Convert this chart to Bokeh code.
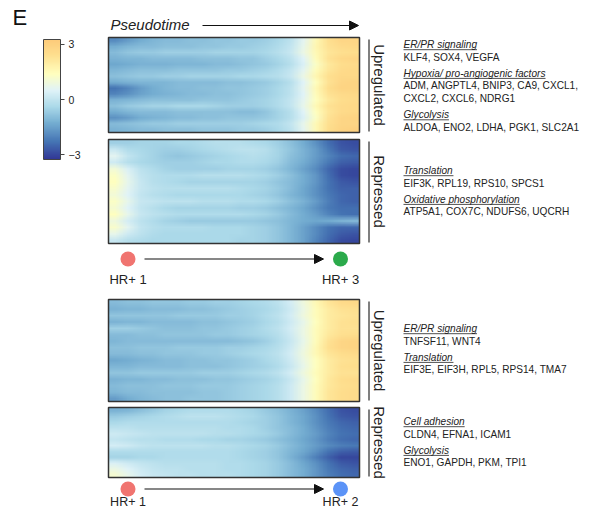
import numpy as np
import zlib, struct, base64
from bokeh.plotting import figure
from bokeh.models import Range1d, LinearColorMapper, ColorBar, FixedTicker, Arrow, NormalHead
from bokeh.core.properties import value
from bokeh.embed import file_html
from bokeh.resources import INLINE

# ---------------- data ----------------
# z-scored expression along pseudotime (rows = gene groups, cols = pseudotime bins)
up_hr3 = [
    [-1.9,-1.6,-1.3,-1.1,-1.0,-1.0,-0.9,-0.9,-0.8,-0.8,-0.7,-0.7,-0.6,-0.4,-0.1,0.6,1.6,2.4,2.8,2.8],
    [-1.3,-1.1,-1.0,-1.0,-0.9,-0.9,-0.9,-0.8,-0.8,-0.7,-0.7,-0.6,-0.5,-0.3,0.0,0.7,1.7,2.3,2.6,2.7],
    [-1.0,-0.8,-0.7,-0.7,-0.6,-0.6,-0.6,-0.6,-0.5,-0.5,-0.5,-0.5,-0.4,-0.2,0.1,0.8,1.6,2.2,2.4,2.5],
    [-1.2,-1.1,-1.1,-1.0,-1.0,-1.0,-1.0,-0.9,-0.9,-0.9,-0.8,-0.8,-0.6,-0.4,-0.1,0.5,1.5,2.3,2.7,2.8],
    [-1.4,-1.3,-1.2,-1.2,-1.2,-1.1,-1.1,-1.1,-1.0,-1.0,-0.9,-0.8,-0.7,-0.5,-0.2,0.4,1.3,2.1,2.5,2.6],
    [-1.1,-1.0,-0.9,-0.9,-0.9,-0.8,-0.8,-0.8,-0.8,-0.7,-0.7,-0.6,-0.5,-0.3,0.0,0.6,1.5,2.2,2.6,2.7],
    [-0.9,-0.8,-0.7,-0.7,-0.6,-0.6,-0.5,-0.5,-0.5,-0.5,-0.4,-0.4,-0.3,-0.2,0.1,0.8,1.7,2.4,2.7,2.7],
    [-1.3,-1.2,-1.1,-1.1,-1.1,-1.0,-1.0,-1.0,-1.0,-0.9,-0.9,-0.8,-0.7,-0.5,-0.2,0.5,1.4,2.3,2.8,2.9],
    [-2.3,-2.0,-1.6,-1.3,-1.1,-1.0,-1.0,-0.9,-0.9,-0.8,-0.8,-0.7,-0.6,-0.4,-0.1,0.6,1.6,2.5,2.9,2.9],
    [-2.0,-1.8,-1.5,-1.3,-1.2,-1.1,-1.0,-1.0,-0.9,-0.9,-0.8,-0.7,-0.6,-0.4,-0.1,0.5,1.5,2.3,2.6,2.7],
    [-1.2,-1.1,-1.0,-0.9,-0.9,-0.9,-0.9,-0.8,-0.8,-0.8,-0.7,-0.6,-0.5,-0.3,0.0,0.6,1.4,2.1,2.5,2.6],
    [-0.9,-0.7,-0.6,-0.5,-0.5,-0.4,-0.4,-0.4,-0.5,-0.6,-0.6,-0.6,-0.5,-0.3,0.0,0.7,1.6,2.3,2.6,2.7],
    [-1.3,-1.1,-1.0,-1.0,-1.0,-0.9,-0.9,-0.9,-0.9,-0.9,-1.0,-1.0,-0.8,-0.5,-0.2,0.5,1.4,2.2,2.6,2.7],
    [-1.8,-1.6,-1.3,-1.2,-1.1,-1.0,-1.0,-0.9,-0.9,-0.8,-0.8,-0.8,-0.7,-0.5,-0.2,0.4,1.3,2.3,2.8,2.9],
    [-1.0,-0.9,-0.8,-0.7,-0.7,-0.6,-0.6,-0.6,-0.6,-0.6,-0.6,-0.5,-0.4,-0.3,0.0,0.7,1.6,2.4,2.8,2.8],
    [-1.2,-1.1,-1.0,-1.0,-0.9,-0.9,-0.9,-0.8,-0.8,-0.8,-0.7,-0.7,-0.6,-0.4,-0.1,0.6,1.6,2.5,2.9,3.0],
]
rep_hr3 = [
    [-0.6,-0.6,-0.5,-0.5,-0.5,-0.4,-0.4,-0.3,-0.2,-0.2,-0.2,-0.3,-0.4,-0.6,-0.9,-1.3,-1.8,-2.4,-2.8,-2.9],
    [0.1,-0.3,-0.4,-0.5,-0.6,-0.6,-0.5,-0.4,-0.3,-0.2,-0.1,-0.1,-0.2,-0.5,-0.8,-1.2,-1.6,-2.2,-2.7,-2.8],
    [0.6,0.0,-0.3,-0.5,-0.7,-0.8,-0.7,-0.6,-0.5,-0.4,-0.3,-0.2,-0.3,-0.5,-0.9,-1.2,-1.6,-2.0,-2.4,-2.5],
    [0.2,-0.2,-0.4,-0.5,-0.6,-0.6,-0.6,-0.5,-0.4,-0.4,-0.3,-0.3,-0.4,-0.6,-1.0,-1.3,-1.7,-2.2,-2.6,-2.7],
    [1.0,0.4,-0.1,-0.3,-0.5,-0.6,-0.6,-0.6,-0.6,-0.5,-0.5,-0.5,-0.6,-0.8,-1.1,-1.5,-1.9,-2.5,-2.9,-3.0],
    [1.3,0.6,0.0,-0.2,-0.3,-0.3,-0.3,-0.2,-0.2,-0.2,-0.2,-0.3,-0.4,-0.6,-0.9,-1.3,-1.7,-2.4,-2.9,-3.0],
    [1.4,0.7,0.1,-0.2,-0.3,-0.4,-0.5,-0.5,-0.5,-0.5,-0.5,-0.5,-0.6,-0.8,-1.0,-1.3,-1.7,-2.3,-2.7,-2.8],
    [1.2,0.6,0.1,-0.1,-0.2,-0.2,-0.2,-0.2,-0.2,-0.2,-0.3,-0.4,-0.5,-0.7,-1.0,-1.4,-1.8,-2.3,-2.6,-2.6],
    [1.0,0.5,0.0,-0.2,-0.3,-0.4,-0.4,-0.4,-0.4,-0.4,-0.4,-0.5,-0.6,-0.8,-1.1,-1.4,-1.8,-2.2,-2.5,-2.6],
    [1.3,0.7,0.1,0.0,-0.1,-0.1,-0.1,-0.2,-0.2,-0.2,-0.3,-0.3,-0.4,-0.6,-0.9,-1.2,-1.6,-2.1,-2.5,-2.6],
    [1.1,0.5,0.0,-0.2,-0.4,-0.5,-0.5,-0.5,-0.5,-0.5,-0.6,-0.6,-0.7,-0.9,-1.1,-1.4,-1.8,-2.2,-2.4,-2.4],
    [1.4,0.7,0.1,-0.1,-0.2,-0.3,-0.3,-0.3,-0.3,-0.3,-0.3,-0.4,-0.5,-0.7,-1.0,-1.3,-1.6,-2.0,-2.3,-2.4],
    [0.9,0.3,-0.1,-0.3,-0.5,-0.6,-0.7,-0.7,-0.7,-0.7,-0.7,-0.7,-0.8,-0.9,-1.1,-1.3,-1.4,-1.3,-1.1,-1.0],
    [1.2,0.6,0.0,-0.2,-0.3,-0.3,-0.3,-0.3,-0.4,-0.4,-0.4,-0.5,-0.6,-0.8,-1.1,-1.5,-1.9,-2.3,-2.5,-2.5],
    [0.7,0.2,-0.1,-0.3,-0.4,-0.4,-0.4,-0.4,-0.4,-0.4,-0.4,-0.5,-0.6,-0.8,-1.1,-1.5,-1.9,-2.4,-2.7,-2.8],
    [0.1,-0.2,-0.3,-0.4,-0.4,-0.4,-0.4,-0.4,-0.4,-0.4,-0.5,-0.5,-0.6,-0.8,-1.1,-1.5,-2.0,-2.5,-2.9,-3.0],
]
up_hr2 = [
    [-1.0,-0.9,-0.9,-0.8,-0.8,-0.8,-0.7,-0.7,-0.6,-0.6,-0.5,-0.4,-0.3,-0.1,0.3,0.9,1.6,2.2,2.6,2.7],
    [-1.2,-1.1,-1.1,-1.0,-1.0,-1.0,-0.9,-0.9,-0.8,-0.7,-0.6,-0.5,-0.4,-0.2,0.2,0.8,1.5,2.0,2.3,2.4],
    [-0.8,-0.8,-0.8,-0.8,-0.8,-0.7,-0.7,-0.7,-0.7,-0.6,-0.6,-0.5,-0.3,-0.1,0.3,0.9,1.5,2.0,2.2,2.3],
    [-1.2,-1.1,-1.1,-1.0,-1.0,-1.0,-1.0,-0.9,-0.9,-0.8,-0.7,-0.6,-0.4,-0.2,0.2,0.7,1.4,2.0,2.3,2.4],
    [-0.6,-0.6,-0.7,-0.8,-0.9,-0.9,-0.9,-0.8,-0.8,-0.7,-0.6,-0.5,-0.3,-0.1,0.3,0.8,1.5,2.0,2.3,2.3],
    [-1.0,-1.0,-0.9,-0.9,-0.8,-0.8,-0.8,-0.8,-0.7,-0.7,-0.6,-0.5,-0.4,-0.2,0.2,0.8,1.5,2.1,2.4,2.5],
    [-1.1,-1.0,-1.0,-1.0,-1.0,-1.0,-1.0,-1.0,-1.0,-1.0,-0.9,-0.8,-0.6,-0.3,0.1,0.7,1.5,2.3,2.8,2.9],
    [-0.9,-0.9,-0.8,-0.8,-0.8,-0.7,-0.7,-0.7,-0.7,-0.6,-0.6,-0.5,-0.4,-0.2,0.2,0.8,1.6,2.4,2.8,2.9],
    [-1.0,-1.0,-0.9,-0.9,-0.8,-0.8,-0.8,-0.7,-0.7,-0.6,-0.5,-0.4,-0.3,-0.1,0.3,0.9,1.6,2.2,2.5,2.6],
    [-1.4,-1.3,-1.2,-1.1,-1.0,-1.0,-0.9,-0.9,-0.8,-0.8,-0.7,-0.6,-0.4,-0.2,0.2,0.8,1.4,2.0,2.3,2.4],
    [-1.1,-1.1,-1.0,-1.0,-1.0,-1.0,-0.9,-0.9,-0.9,-0.8,-0.7,-0.6,-0.5,-0.3,0.1,0.7,1.4,2.0,2.4,2.5],
    [-0.8,-0.8,-0.7,-0.7,-0.7,-0.7,-0.7,-0.6,-0.6,-0.6,-0.5,-0.4,-0.3,-0.1,0.3,0.9,1.5,2.0,2.3,2.3],
    [-1.2,-1.1,-1.1,-1.0,-1.0,-0.9,-0.9,-0.9,-0.8,-0.8,-0.7,-0.6,-0.5,-0.3,0.1,0.7,1.4,2.1,2.5,2.6],
    [-1.0,-0.9,-0.9,-0.9,-0.8,-0.8,-0.8,-0.7,-0.7,-0.7,-0.6,-0.5,-0.4,-0.2,0.2,0.8,1.5,2.1,2.4,2.5],
    [-1.1,-1.0,-1.0,-0.9,-0.9,-0.9,-0.9,-0.8,-0.8,-0.7,-0.6,-0.5,-0.4,-0.2,0.2,0.8,1.5,2.2,2.5,2.6],
    [-1.6,-1.3,-1.1,-1.0,-0.9,-0.9,-0.8,-0.8,-0.8,-0.7,-0.6,-0.5,-0.4,-0.2,0.2,0.8,1.5,2.2,2.5,2.6],
]
rep_hr2 = [
    [-1.2,-1.1,-0.9,-0.7,-0.5,-0.4,-0.3,-0.3,-0.3,-0.3,-0.4,-0.5,-0.7,-0.9,-1.2,-1.5,-1.9,-2.4,-2.8,-2.9],
    [-0.7,-0.6,-0.5,-0.4,-0.3,-0.2,-0.1,-0.1,-0.1,-0.2,-0.3,-0.4,-0.6,-0.8,-1.1,-1.4,-1.8,-2.3,-2.7,-2.8],
    [-0.4,-0.3,-0.3,-0.3,-0.3,-0.3,-0.3,-0.3,-0.3,-0.3,-0.4,-0.5,-0.6,-0.8,-1.1,-1.4,-1.8,-2.2,-2.5,-2.6],
    [-0.1,-0.1,-0.2,-0.2,-0.2,-0.2,-0.2,-0.2,-0.2,-0.3,-0.3,-0.4,-0.6,-0.8,-1.0,-1.3,-1.7,-2.1,-2.4,-2.5],
    [0.2,0.1,0.0,-0.1,-0.1,-0.1,-0.1,-0.1,-0.2,-0.2,-0.3,-0.4,-0.5,-0.7,-1.0,-1.3,-1.6,-2.0,-2.3,-2.4],
    [0.0,-0.1,-0.2,-0.2,-0.3,-0.3,-0.3,-0.4,-0.4,-0.5,-0.5,-0.6,-0.7,-0.9,-1.1,-1.4,-1.7,-2.1,-2.4,-2.5],
    [0.3,0.2,0.0,-0.1,-0.1,-0.1,-0.1,-0.1,-0.2,-0.2,-0.3,-0.4,-0.5,-0.7,-1.0,-1.3,-1.6,-1.9,-2.1,-2.2],
    [-0.3,-0.3,-0.3,-0.3,-0.3,-0.3,-0.3,-0.3,-0.3,-0.3,-0.4,-0.5,-0.6,-0.8,-1.1,-1.4,-1.8,-2.3,-2.6,-2.7],
    [-0.5,-0.5,-0.4,-0.4,-0.3,-0.3,-0.3,-0.3,-0.3,-0.3,-0.4,-0.5,-0.6,-0.8,-1.2,-1.6,-2.1,-2.6,-3.0,-3.0],
    [0.4,0.2,0.0,-0.1,-0.2,-0.2,-0.2,-0.2,-0.2,-0.3,-0.3,-0.4,-0.5,-0.7,-1.0,-1.4,-1.8,-2.3,-2.7,-2.8],
    [0.8,0.5,0.2,0.0,-0.1,-0.1,-0.2,-0.2,-0.2,-0.3,-0.3,-0.4,-0.5,-0.7,-1.0,-1.3,-1.7,-2.2,-2.5,-2.6],
    [1.1,0.7,0.3,0.1,0.0,-0.1,-0.1,-0.2,-0.2,-0.2,-0.3,-0.4,-0.5,-0.7,-1.0,-1.3,-1.7,-2.1,-2.4,-2.5],
]

panel_labels = ["Upregulated", "Repressed", "Upregulated", "Repressed"]
colorbar_ticks = [-3, 0, 3]
start_groups = ["HR+ 1", "HR+ 1"]
end_groups = ["HR+ 3", "HR+ 2"]
start_colors = ["#F07470", "#F07470"]
end_colors = ["#2BAA4B", "#5B93F7"]

annotations = [
    [("ER/PR signaling", ["KLF4, SOX4, VEGFA"]),
     ("Hypoxia/ pro-angiogenic factors", ["ADM, ANGPTL4, BNIP3, CA9, CXCL1,", "CXCL2, CXCL6, NDRG1"]),
     ("Glycolysis", ["ALDOA, ENO2, LDHA, PGK1, SLC2A1"])],
    [("Translation", ["EIF3K, RPL19, RPS10, SPCS1"]),
     ("Oxidative phosphorylation", ["ATP5A1, COX7C, NDUFS6, UQCRH"])],
    [("ER/PR signaling", ["TNFSF11, WNT4"]),
     ("Translation", ["EIF3E, EIF3H, RPL5, RPS14, TMA7"])],
    [("Cell adhesion", ["CLDN4, EFNA1, ICAM1"]),
     ("Glycolysis", ["ENO1, GAPDH, PKM, TPI1"])],
]

# ---------------- layout helpers ----------------
W, H = 581, 509
def X(px):
    return px
def Y(py):
    return H - py

FONT = "Liberation Sans"
TXT = "#222222"

# colour map (blue -> white -> yellow -> orange)
LOW, HIGH = -3.27, 3.27
anchors_v = [LOW, -2.3, -1.3, -0.4, 0.5, 1.4, 2.4, HIGH]
anchors_c = ["#313695", "#4575B4", "#74ADD1", "#ABD9E9", "#E0F3F8", "#FFFFBF", "#FEE090", "#FDCB7A"]
def _rgb(h):
    return [int(h[i:i + 2], 16) for i in (1, 3, 5)]
pal_rgb = []
for t in np.linspace(LOW, HIGH, 256):
    pal_rgb.append(tuple(int(round(np.interp(t, anchors_v, [_rgb(c)[k] for c in anchors_c]))) for k in range(3)))
pal = ["#%02x%02x%02x" % c for c in pal_rgb]
mapper = LinearColorMapper(palette=pal, low=LOW, high=HIGH)

def map_color(v):
    i = int((v - LOW) / (HIGH - LOW) * 256)
    return pal_rgb[min(max(i, 0), 255)]

def heat_png(M):
    rows = []
    for r in M:
        rows.append(b"\x00" + bytes([ch for v in r for ch in (map_color(v) + (255,))]))
    raw = b"".join(rows)
    def chunk(t, d):
        return struct.pack(">I", len(d)) + t + d + struct.pack(">I", zlib.crc32(t + d) & 0xFFFFFFFF)
    png = (b"\x89PNG\r\n\x1a\n"
           + chunk(b"IHDR", struct.pack(">IIBBBBB", len(M[0]), len(M), 8, 6, 0, 0, 0))
           + chunk(b"IDAT", zlib.compress(raw, 9)) + chunk(b"IEND", b""))
    return "data:image/png;base64," + base64.b64encode(png).decode()

HELV = {' ': 278, ',': 278, '-': 333, '.': 278, '/': 278, '+': 584,
        'A': 667, 'B': 667, 'C': 722, 'D': 722, 'E': 667, 'F': 611, 'G': 778, 'H': 722, 'I': 278,
        'J': 500, 'K': 667, 'L': 556, 'M': 833, 'N': 722, 'O': 778, 'P': 667, 'Q': 778, 'R': 722,
        'S': 667, 'T': 611, 'U': 722, 'V': 667, 'W': 944, 'X': 667, 'Y': 667, 'Z': 611,
        'a': 556, 'b': 556, 'c': 500, 'd': 556, 'e': 556, 'f': 278, 'g': 556, 'h': 556, 'i': 222,
        'j': 222, 'k': 500, 'l': 222, 'm': 833, 'n': 556, 'o': 556, 'p': 556, 'q': 556, 'r': 333,
        's': 500, 't': 278, 'u': 556, 'v': 500, 'w': 722, 'x': 500, 'y': 500, 'z': 500}
def text_w(s, fs):
    return sum(HELV.get(ch, 556) for ch in s) / 1000.0 * fs

p = figure(width=W, height=H, x_range=Range1d(0, W), y_range=Range1d(0, H),
           x_axis_location=None, y_axis_location=None, toolbar_location=None,
           min_border=0, output_backend="svg", outline_line_color=None,
           background_fill_color="white", border_fill_color="white")
p.xgrid.visible = False
p.ygrid.visible = False

# panel letter
p.text(x=[X(12)], y=[Y(16.5)], text=["E"], text_font=value(FONT), text_font_size="22px",
       text_color="#111111", text_baseline="middle", text_align="left")

# pseudotime header
p.text(x=[X(110)], y=[Y(24)], text=["Pseudotime"], text_font=value(FONT), text_font_size="15px",
       text_font_style="italic", text_color=TXT, text_baseline="middle", text_align="left")
p.add_layout(Arrow(end=NormalHead(size=9, fill_color="#111111", line_color="#111111", line_width=1),
                   x_start=X(202), y_start=Y(25), x_end=X(358), y_end=Y(25),
                   line_width=1.2, line_color="#111111"))

# heatmaps
panels = [up_hr3, rep_hr3, up_hr2, rep_hr2]
boxes = [(37, 132), (139, 243), (299, 401), (407, 477)]
xl, xr = 108, 359
for M, (top, bot), lab in zip(panels, boxes, panel_labels):
    p.image_url(url=[heat_png(M)], x=X(xl), y=Y(top), w=xr - xl, h=bot - top, anchor="top_left")
    p.quad(left=[X(xl)], right=[X(xr)], top=[Y(top)], bottom=[Y(bot)],
           fill_color=None, line_color="#333333", line_width=1.5)
    p.segment(x0=[X(368.5)], y0=[Y(top + 2)], x1=[X(368.5)], y1=[Y(bot - 1)],
              line_color="#555555", line_width=1.5)
    p.text(x=[X(378.5)], y=[Y((top + bot) / 2.0)], text=[lab], angle=-np.pi / 2,
           text_font=value(FONT), text_font_size="15px", text_color=TXT,
           text_align="center", text_baseline="middle")

# colour bar
cb = ColorBar(color_mapper=mapper, ticker=FixedTicker(ticks=colorbar_ticks), width=17, height=120,
              location=(X(43), Y(159)), padding=0, bar_line_color="#444444", bar_line_width=1,
              major_tick_in=0, major_tick_out=4, major_tick_line_color="#444444",
              minor_tick_line_color=None, major_label_text_font_size="10.5px",
              major_label_text_font=FONT, major_label_text_color=TXT,
              label_standoff=4, background_fill_alpha=0, border_line_color=None)
p.add_layout(cb)

# trajectories (start -> end group)
traj_y = [258.5, 488.5]
label_y = [279, 501.5]
label_fs = ["13px", "12.5px"]
for i in range(2):
    p.scatter(x=[X(127.5), X(340)], y=[Y(traj_y[i])] * 2, size=15,
              fill_color=[start_colors[i], end_colors[i]], line_color=None)
    p.add_layout(Arrow(end=NormalHead(size=9, fill_color="#111111", line_color="#111111", line_width=1),
                       x_start=X(144), y_start=Y(traj_y[i]), x_end=X(323), y_end=Y(traj_y[i]),
                       line_width=1.2, line_color="#111111"))
    p.text(x=[X(127.5), X(340)], y=[Y(label_y[i])] * 2, text=[start_groups[i], end_groups[i]],
           text_font=value(FONT), text_font_size=label_fs[i], text_color=TXT,
           text_align="center", text_baseline="middle")

# annotation texts
FS = 10.1
block_start = [44, 170, 328, 421]
tx = 403
for blk, y0 in zip(annotations, block_start):
    yy = y0
    for j, (term, genes) in enumerate(blk):
        if j > 0:
            yy += 16
        p.text(x=[X(tx)], y=[Y(yy)], text=[term], text_font=value(FONT), text_font_size="%.1fpx" % FS,
               text_font_style="italic", text_color=TXT, text_baseline="middle", text_align="left")
        p.segment(x0=[X(tx)], y0=[Y(yy + 5.2)], x1=[X(tx + text_w(term, FS))], y1=[Y(yy + 5.2)],
                  line_color=TXT, line_width=0.8)
        for g in genes:
            yy += 12.7
            p.text(x=[X(tx)], y=[Y(yy)], text=[g], text_font=value(FONT),
                   text_font_size="%.1fpx" % FS, text_color=TXT,
                   text_baseline="middle", text_align="left")

open("out.html", "w").write(file_html(p, INLINE))
